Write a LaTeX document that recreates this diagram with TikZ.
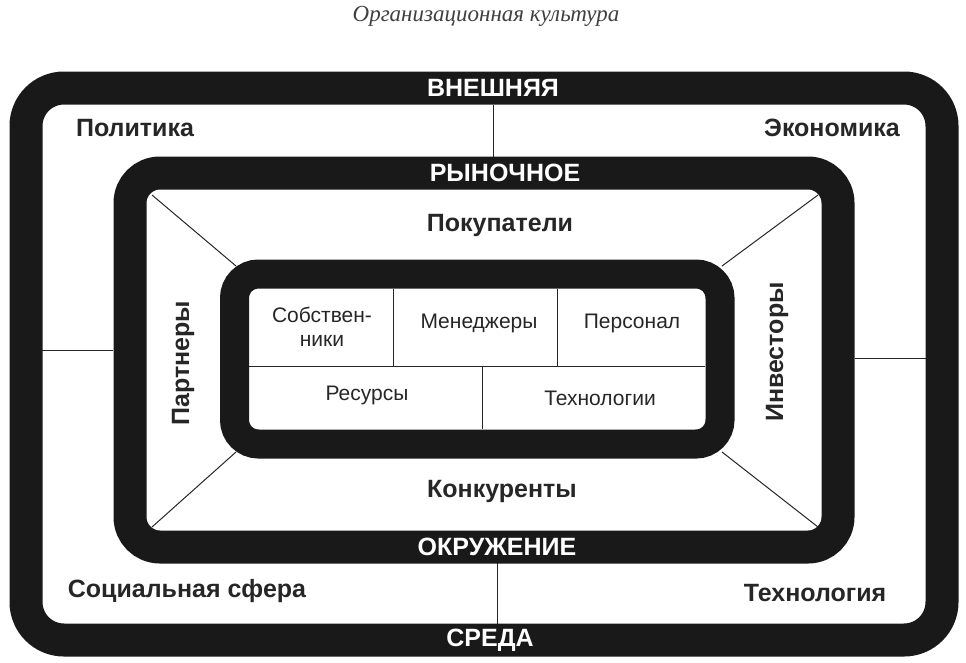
\documentclass[tikz,border=0pt]{standalone}
\usepackage{fontspec}
\setmainfont{Liberation Sans}
\newfontfamily\titlefont{Liberation Serif}
\begin{document}
\begin{tikzpicture}[x=1pt,y=-1pt,
 frame/.style={draw=black!90,rounded corners=#1},
 band/.style={fill=black!90,text=white,font=\fontsize{25}{27}\selectfont\bfseries,inner sep=2pt},
 lbl/.style={font=\fontsize{25}{27}\selectfont\bfseries,text=black!85},
 cell/.style={font=\fontsize{21}{24}\selectfont,text=black!85,align=center},
 thin/.style={draw=black!85,line width=1pt}]
\useasboundingbox (0,0) rectangle (966,662);
\node[font=\titlefont\itshape\fontsize{23}{26}\selectfont,text=black!75] (title) at (486,16) {Организационная культура};
% connector lines first
\coordinate (ot) at (493,105); \coordinate (mt) at (493,157);
\draw[thin] (ot) -- (mt);
\coordinate (ol) at (42,350); \coordinate (ml) at (113,350);
\draw[thin] (ol) -- (ml);
\coordinate (or) at (926,358); \coordinate (mr) at (855,358);
\draw[thin] (or) -- (mr);
\coordinate (ob) at (497,624); \coordinate (mb) at (497,563);
\draw[thin] (ob) -- (mb);
\coordinate (c1) at (152,195); \coordinate (i1) at (236,266);
\coordinate (c2) at (818,195); \coordinate (i2) at (722,266);
\coordinate (c3) at (152,527); \coordinate (i3) at (236,452);
\coordinate (c4) at (818,527); \coordinate (i4) at (722,452);
\draw[thin] (c1)--(i1) (c2)--(i2) (c3)--(i3) (c4)--(i4);
% frames
\draw[frame=38pt,line width=33pt] (26,88) rectangle (942,640);
\draw[frame=30pt,line width=33pt] (130,173) rectangle (838,547);
\draw[frame=24pt,line width=29pt] (234.5,274) rectangle (720,444);
% cells
\draw[thin] (249,366) -- (705,366);
\draw[thin] (393,289) -- (393,366);
\draw[thin] (557,289) -- (557,366);
\draw[thin] (482,366) -- (482,429);
\node[cell] (sob) at (322,327) {Собствен-\\ники};
\node[cell] (men) at (479,323) {Менеджеры};
\node[cell] (per) at (632,323) {Персонал};
\node[cell] (res) at (367,395) {Ресурсы};
\node[cell] (teh) at (600,398) {Технологии};
% band labels
\node[band] (vn) at (493,88) {ВНЕШНЯЯ};
\node[band] (sr) at (490,640) {СРЕДА};
\node[band] (ry) at (505,173) {РЫНОЧНОЕ};
\node[band] (ok) at (497,547) {ОКРУЖЕНИЕ};
% labels
\node[lbl] (pol) at (135,128) {Политика};
\node[lbl] (eko) at (832,128) {Экономика};
\node[lbl] (soc) at (187,591) {Социальная сфера};
\node[lbl] (tex) at (815,593) {Технология};
\node[lbl] (pok) at (500,225) {Покупатели};
\node[lbl] (kon) at (502,491) {Конкуренты};
\node[lbl,rotate=90] (par) at (183,363) {Партнеры};
\node[lbl,rotate=90] (inv) at (777,352) {Инвесторы};
\end{tikzpicture}
\end{document}
